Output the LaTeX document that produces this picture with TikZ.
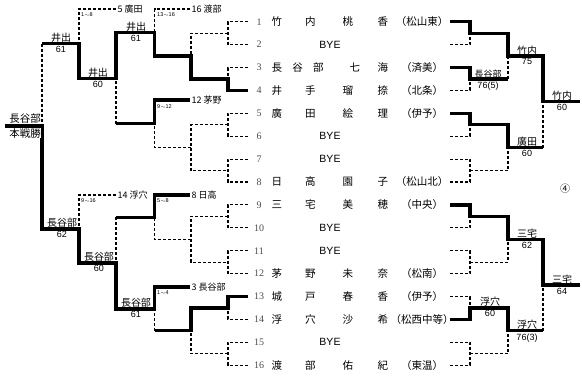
\documentclass[tikz,border=0pt]{standalone}
\usepackage{fontspec}
\setmainfont{Liberation Sans}
\newfontfamily\jp{Noto Sans CJK JP}
\newfontfamily\numf{Liberation Serif}

\begin{document}
\begin{tikzpicture}[x=1pt, y=-1pt,
    winline/.style={line width=3.2pt},
    loseline/.style={line width=1.1pt, dash pattern=on 3pt off 2pt},
    pnum/.style={inner sep=0pt, text=black!70, font=\numf\fontsize{10}{11}\selectfont},
    pname/.style={anchor=west, inner sep=0pt, font=\jp\fontsize{10.5}{12}\selectfont},
    bye/.style={inner sep=0pt, font=\fontsize{10.5}{12}\selectfont},
    wname/.style={above, inner sep=1pt, font=\jp\fontsize{10}{11}\selectfont},
    wscore/.style={below=1.5pt, inner sep=1pt, font=\fontsize{9}{10}\selectfont},
    entry/.style={anchor=west, inner sep=1.5pt, font=\jp\fontsize{9}{10}\selectfont},
    rng/.style={anchor=north west, inner sep=0pt, font=\fontsize{5.5}{6}\selectfont}]
    \useasboundingbox (0,0) rectangle (582,376);

    % Номера участников
    \foreach \i in {1,...,16} {
        \pgfmathsetmacro\y{21.7+(\i-1)*22.9}
        \node[pnum] (num\i) at (259,\y) {\i};
    }

    % Имена и школы
    \foreach \i/\sw/\sur/\gw/\giv/\aff in {
        1/44/竹\hfill 内/45.5/桃\hfill 香/（松山東）,
        3/52/長\hfill 谷\hfill 部/38.5/七\hfill 海/（済美）,
        4/44/井\hfill 手/45.5/瑠\hfill 捺/（北条）,
        5/44/廣\hfill 田/45.5/絵\hfill 理/（伊予）,
        8/44/日\hfill 高/45.5/園\hfill 子/（松山北）,
        9/44/三\hfill 宅/45.5/美\hfill 穂/（中央）,
        12/44/茅\hfill 野/45.5/未\hfill 奈/（松南）,
        13/44/城\hfill 戸/45.5/春\hfill 香/（伊予）,
        14/44/浮\hfill 穴/45.5/沙\hfill 希/（松西中等）,
        16/44/渡\hfill 部/45.5/佑\hfill 紀/（東温）} {
        \pgfmathsetmacro\y{21.7+(\i-1)*22.9}
        \node[pname] (p\i) at (271.5,\y)
            {\hbox to 116.5pt{\hbox to \sw pt{\sur}\hfill\hbox to \gw pt{\giv}}\makebox[68pt]{\aff}};
    }
    \foreach \i in {2,6,7,10,11,15} {
        \pgfmathsetmacro\y{21.7+(\i-1)*22.9}
        \node[bye] (p\i) at (330,\y) {BYE};
    }

    % Основная сетка (справа): победители
    \draw[winline] (450,21.7) -- (470,21.7) -- (470,33.15) -- (508,33.15) -- (508,56.05)
        -- (543,56.05) -- (543,101.85) -- (580,101.85);
    \draw[winline] (450,67.5) -- (470,67.5) -- (470,78.95) -- (508,78.95);
    \draw[winline] (450,113.3) -- (470,113.3) -- (470,124.75) -- (508,124.75) -- (508,147.65) -- (543,147.65);
    \draw[winline] (450,204.9) -- (470,204.9) -- (470,216.35) -- (508,216.35) -- (508,239.25)
        -- (543,239.25) -- (543,285.05) -- (580,285.05);
    \draw[winline] (450,319.4) -- (470,319.4) -- (470,307.95) -- (508,307.95) -- (508,330.85) -- (543,330.85);

    % Основная сетка (справа): проигравшие
    \draw[loseline] (450,44.6) -- (470,44.6) -- (470,33.15);
    \draw[loseline] (450,90.4) -- (470,90.4) -- (470,78.95);
    \draw[loseline] (508,78.95) -- (508,56.05);
    \draw[loseline] (450,136.2) -- (470,136.2) -- (470,124.75);
    \draw[loseline] (450,159.1) -- (470,159.1) -- (470,182) -- (450,182);
    \draw[loseline] (470,170.55) -- (508,170.55) -- (508,147.65);
    \draw[loseline] (543,147.65) -- (543,101.85);
    \draw[loseline] (450,227.8) -- (470,227.8) -- (470,216.35);
    \draw[loseline] (450,250.7) -- (470,250.7) -- (470,273.6) -- (450,273.6);
    \draw[loseline] (470,262.15) -- (508,262.15) -- (508,239.25);
    \draw[loseline] (450,296.5) -- (470,296.5) -- (470,307.95);
    \draw[loseline] (450,342.3) -- (470,342.3) -- (470,365.2) -- (450,365.2);
    \draw[loseline] (470,353.75) -- (508,353.75) -- (508,330.85);
    \draw[loseline] (543,330.85) -- (543,285.05);

    % Результаты справа
    \node[wname] (rw1) at (527,56.05) {竹内};       \node[wscore] (rs1) at (527,56.05) {75};
    \node[wname, font=\jp\fontsize{9}{10}\selectfont] (rw2) at (488,78.95) {長谷部};
    \node[wscore] (rs2) at (488,78.95) {76(5)};
    \node[wname] (rw3) at (527,147.65) {廣田};     \node[wscore] (rs3) at (527,147.65) {60};
    \node[wname] (rw4) at (562,101.85) {竹内};     \node[wscore] (rs4) at (562,101.85) {60};
    \node[wname] (rw5) at (527,239.25) {三宅};     \node[wscore] (rs5) at (527,239.25) {62};
    \node[wname] (rw6) at (490,307.95) {浮穴};     \node[wscore] (rs6) at (490,307.95) {60};
    \node[wname] (rw7) at (527,330.85) {浮穴};     \node[wscore] (rs7) at (527,330.85) {76(3)};
    \node[wname] (rw8) at (562,285.05) {三宅};     \node[wscore] (rs8) at (562,285.05) {64};
    \node[font=\jp\fontsize{10}{11}\selectfont] (mark) at (565,189) {④};

    % Утешительная сетка (слева): входящие участники
    \node[entry] (e16) at (190,9) {16 渡部};
    \node[entry] (e12) at (190,100) {12 茅野};
    \node[entry] (e8) at (190,195) {8 日高};
    \node[entry] (e3) at (190,287) {3 長谷部};
    \node[entry] (e5) at (116,9) {5 廣田};
    \node[entry] (e14) at (116,195) {14 浮穴};
    \node[rng] (g1) at (81,12) {1$\sim$8};
    \node[rng] (g2) at (157,12) {13$\sim$16};
    \node[rng] (g3) at (157,104) {9$\sim$12};
    \node[rng] (g4) at (157,198.5) {5$\sim$8};
    \node[rng] (g5) at (81,198.5) {9$\sim$16};
    \node[rng] (g6) at (157,290.5) {1$\sim$4};

    % Утешительная сетка (слева): победители
    \draw[winline] (248,90.4) -- (228,90.4) -- (228,78.95) -- (191,78.95) -- (191,56.05) -- (154.5,56.05)
        -- (154.5,32.5) -- (116,32.5) -- (116,78.2) -- (79,78.2) -- (79,43.6) -- (42,43.6);
    \draw[winline] (e12.west) -- (154.5,100) -- (154.5,123.8) -- (116,123.8);
    \draw[winline] (e8.west) -- (154.5,195) -- (154.5,217.1) -- (116,217.1);
    \draw[winline] (e3.west) -- (154.5,287) -- (154.5,308.9) -- (116,308.9) -- (116,263) -- (79,263)
        -- (79,229) -- (42,229) -- (42,126) -- (5,126);
    \draw[winline] (248,296.5) -- (228,296.5) -- (228,307.95) -- (191,307.95) -- (191,330.85) -- (154.5,330.85);

    % Утешительная сетка (слева): проигравшие
    \draw[loseline] (248,21.7) -- (228,21.7) -- (228,44.6) -- (248,44.6);
    \draw[loseline] (228,33.15) -- (191,33.15) -- (191,56.05);
    \draw[loseline] (248,67.5) -- (228,67.5) -- (228,78.95);
    \draw[loseline] (248,113.3) -- (228,113.3) -- (228,136.2) -- (248,136.2);
    \draw[loseline] (248,159.1) -- (228,159.1) -- (228,182) -- (248,182);
    \draw[loseline] (228,124.75) -- (191,124.75) -- (191,170.55) -- (228,170.55);
    \draw[loseline] (191,147.65) -- (154.5,147.65) -- (154.5,123.8);
    \draw[loseline] (248,204.9) -- (228,204.9) -- (228,227.8) -- (248,227.8);
    \draw[loseline] (248,250.7) -- (228,250.7) -- (228,273.6) -- (248,273.6);
    \draw[loseline] (228,216.35) -- (191,216.35) -- (191,262.15) -- (228,262.15);
    \draw[loseline] (191,239.25) -- (154.5,239.25) -- (154.5,217.1);
    \draw[loseline] (248,319.4) -- (228,319.4) -- (228,307.95);
    \draw[loseline] (248,342.3) -- (228,342.3) -- (228,365.2) -- (248,365.2);
    \draw[loseline] (228,353.75) -- (191,353.75) -- (191,330.85);
    \draw[loseline] (154.5,330.85) -- (154.5,308.9);
    \draw[loseline] (116,123.8) -- (116,78.2);
    \draw[loseline] (116,217.1) -- (116,263);
    \draw[loseline] (e16.west) -- (154.5,9) -- (154.5,32.5);
    \draw[loseline] (e5.west) -- (79,9) -- (79,43.6);
    \draw[loseline] (e14.west) -- (79,195) -- (79,229);
    \draw[loseline] (42,43.6) -- (42,126);

    % Результаты слева
    \node[wname] (lw1) at (136,32.5) {井出};      \node[wscore] (ls1) at (136,32.5) {61};
    \node[wname] (lw2) at (98,78.2) {井出};       \node[wscore] (ls2) at (98,78.2) {60};
    \node[wname] (lw3) at (61,43.6) {井出};       \node[wscore] (ls3) at (61,43.6) {61};
    \node[wname] (lw4) at (136,308.9) {長谷部};   \node[wscore] (ls4) at (136,308.9) {61};
    \node[wname] (lw5) at (99,263) {長谷部};      \node[wscore] (ls5) at (99,263) {60};
    \node[wname] (lw6) at (62,229) {長谷部};      \node[wscore] (ls6) at (62,229) {62};
    \node[wname, fill=white, inner sep=0.5pt, font=\jp\fontsize{10.5}{11}\selectfont] (champ) at (25,124.4) {長谷部};
    \node[below, fill=white, inner sep=0.5pt, font=\jp\fontsize{10.5}{11}\selectfont] (champnote) at (25,127.6) {本戦勝};
\end{tikzpicture}
\end{document}
